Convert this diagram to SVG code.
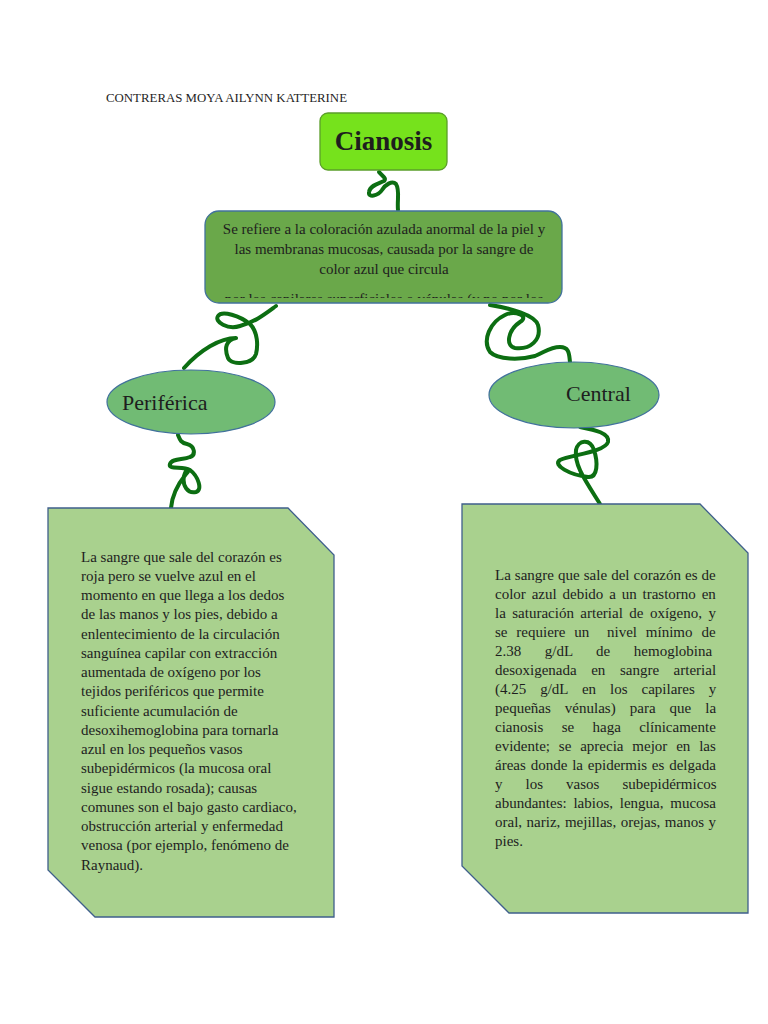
<svg xmlns="http://www.w3.org/2000/svg" width="768" height="1024" viewBox="0 0 768 1024">
<defs>
<style>
.t{font-family:"Liberation Serif","Times New Roman",serif;fill:#1e1e1e}
.body{font-size:15px}
.conn{fill:none;stroke:#0c6e12;stroke-width:4;stroke-linecap:round;stroke-linejoin:round}
.ell{fill:#71bb74;stroke:#41719c;stroke-width:1.2}
.card{fill:#a9d18e;stroke:#3f5f8c;stroke-width:1.3}
</style>
<clipPath id="clipTop"><rect x="205" y="211" width="357" height="87"/></clipPath>
</defs>
<rect width="768" height="1024" fill="#ffffff"/>
<text class="t" x="106" y="102" font-size="11.5" textLength="241" lengthAdjust="spacingAndGlyphs">CONTRERAS MOYA AILYNN KATTERINE</text>

<g id="connectors">
<path class="conn" d="M379,172 C382,176 387,178 384,181 C380,183 370,185 369,192 C368,198 378,196 382,190 C385,185 392,180 396,184 C400,190 397,200 398,210"/>
<path class="conn" d="M276,306 C265,314 255,322 240,326 C228,330 214,322 218,316 C222,310 240,316 250,324 C258,332 258,346 256,354 C253,364 232,366 228,358 C224,348 226,340 236,338 C220,338 200,350 184,368"/>
<path class="conn" d="M178,435 C180,440 181,443 187,444 C195,446 196,455 190,457 C183,460 172,458 170,464 C168,470 182,466 190,470 C198,476 203,490 196,492 C188,494 182,486 184,476 C186,468 192,468 186,474 C178,484 172,495 171,508"/>
<path class="conn" d="M490,305 C510,308 535,315 538,325 C542,340 530,350 515,348 C505,346 508,330 520,322 C530,316 515,310 505,315 C490,322 482,340 490,352 C498,360 520,360 535,356 C545,352 550,347 560,347 C570,347 569,355 570,362"/>
<path class="conn" d="M580,427 C595,430 610,433 608,442 C605,452 570,455 560,460 C552,465 570,475 588,477 C598,478 598,462 594,450 C590,438 578,440 576,450 C574,465 585,480 600,504"/>
</g>

<g id="cianosis">
<rect x="320" y="113" width="127" height="57" rx="8" fill="#76e21c" stroke="#5b9e2a" stroke-width="1.3"/>
<text class="t" x="383.5" y="150" font-size="27" font-weight="bold" text-anchor="middle" fill="#111">Cianosis</text>
</g>

<g id="definicion">
<rect x="205" y="211" width="357" height="92" rx="14" fill="#6aa84a" stroke="#41719c" stroke-width="1.3"/>
<g class="t" font-size="15" text-anchor="middle">
<text x="384" y="234">Se refiere a la coloración azulada anormal de la piel y</text>
<text x="384" y="254">las membranas mucosas, causada por la sangre de</text>
<text x="384" y="274">color azul que circula</text>
<text x="384" y="304" clip-path="url(#clipTop)">por los capilares superficiales o vénulas (y no por los</text>
</g>
</g>

<g id="periferica">
<ellipse class="ell" cx="191" cy="402" rx="84" ry="32"/>
<text class="t" x="122" y="410" font-size="22">Periférica</text>
</g>

<g id="central">
<ellipse class="ell" cx="574" cy="395" rx="85" ry="33"/>
<text class="t" x="566" y="401" font-size="22">Central</text>
</g>

<g id="texto-periferica">
<polygon class="card" points="48,508 288,508 334,555 334,917 95,917 48,870"/>
<g class="t body">
<text x="81" y="562">La sangre que sale del corazón es</text>
<text x="81" y="581">roja pero se vuelve azul en el</text>
<text x="81" y="600">momento en que llega a los dedos</text>
<text x="81" y="619">de las manos y los pies, debido a</text>
<text x="81" y="639">enlentecimiento de la circulación</text>
<text x="81" y="658">sanguínea capilar con extracción</text>
<text x="81" y="677">aumentada de oxígeno por los</text>
<text x="81" y="696">tejidos periféricos que permite</text>
<text x="81" y="716">suficiente acumulación de</text>
<text x="81" y="735">desoxihemoglobina para tornarla</text>
<text x="81" y="754">azul en los pequeños vasos</text>
<text x="81" y="773">subepidérmicos (la mucosa oral</text>
<text x="81" y="793">sigue estando rosada); causas</text>
<text x="81" y="812">comunes son el bajo gasto cardiaco,</text>
<text x="81" y="831">obstrucción arterial y enfermedad</text>
<text x="81" y="850">venosa (por ejemplo, fenómeno de</text>
<text x="81" y="870">Raynaud).</text>
</g>
</g>

<g id="texto-central">
<polygon class="card" points="462,504 700,504 748,553 748,913 509,913 462,866"/>
<g class="t body">
<text x="495" y="580" word-spacing="0.3">La sangre que sale del corazón es de</text>
<text x="495" y="599" word-spacing="2.1">color azul debido a un trastorno en</text>
<text x="495" y="618" word-spacing="2.7">la saturación arterial de oxígeno, y</text>
<text x="495" y="637" word-spacing="5.1" style="white-space:pre">se requiere un  nivel mínimo de</text>
<text x="495" y="656" word-spacing="19.8">2.38 g/dL de hemoglobina</text>
<text x="495" y="675" word-spacing="10.8">desoxigenada en sangre arterial</text>
<text x="495" y="694" word-spacing="10.2">(4.25 g/dL en los capilares y</text>
<text x="495" y="713" word-spacing="10.3">pequeñas vénulas) para que la</text>
<text x="495" y="732" word-spacing="14.6">cianosis se haga clínicamente</text>
<text x="495" y="751" word-spacing="5.1">evidente; se aprecia mejor en las</text>
<text x="495" y="770" word-spacing="1.1">áreas donde la epidermis es delgada</text>
<text x="495" y="789" word-spacing="19.3">y los vasos subepidérmicos</text>
<text x="495" y="808" word-spacing="3">abundantes: labios, lengua, mucosa</text>
<text x="495" y="827" word-spacing="0.8">oral, nariz, mejillas, orejas, manos y</text>
<text x="495" y="846">pies.</text>
</g>
</g>
</svg>
